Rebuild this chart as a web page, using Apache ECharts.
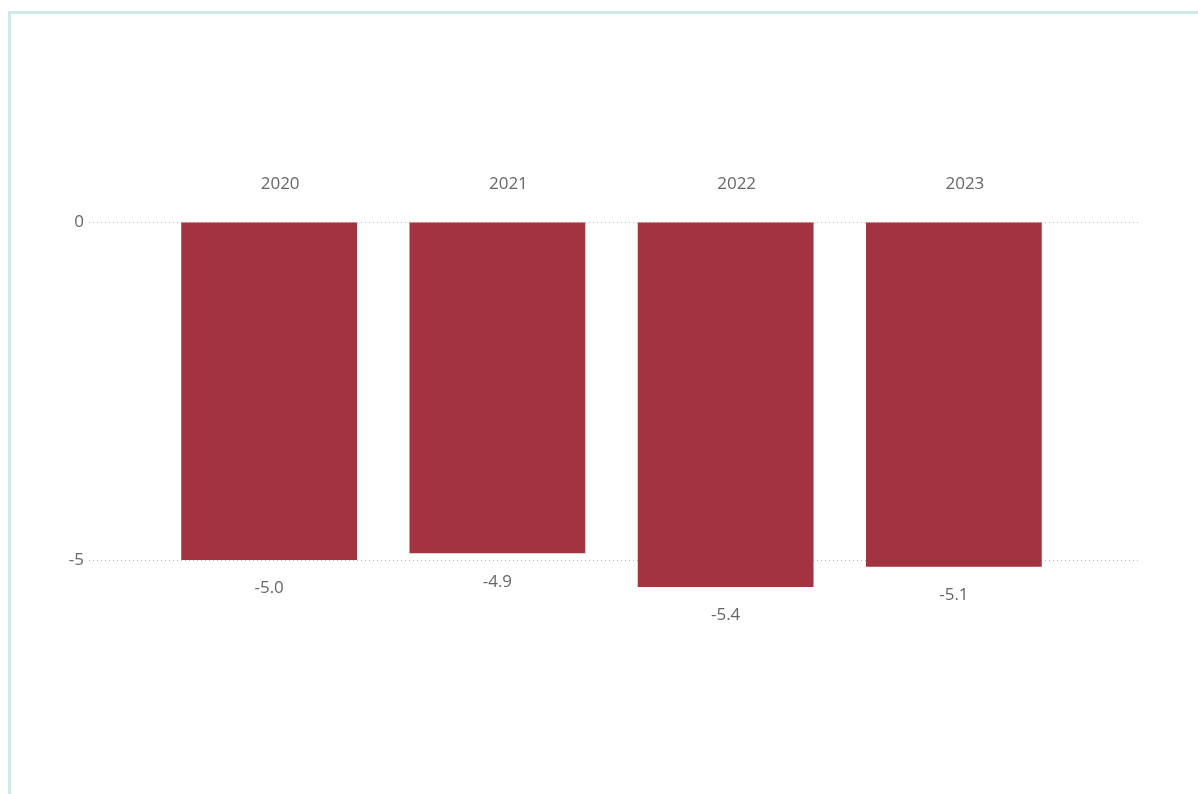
<!DOCTYPE html>
<html>
<head>
<meta charset="utf-8">
<script src="https://cdn.jsdelivr.net/npm/echarts@6/dist/echarts.min.js"></script>
<style>
  html, body { margin: 0; padding: 0; background: #ffffff; }
  #chart { width: 1198px; height: 794px; }
</style>
</head>
<body>
<div id="chart"></div>
<script>
// Yearly values shown as negative columns hanging from the zero line
const years = ['2020', '2021', '2022', '2023'];
const values = [-5.0, -4.9, -5.4, -5.1];
const yTicks = [0, -5];

const textColor = '#666666';
const barColor = '#a2333f';
const fontFamily = '"Open Sans", "Noto Sans", sans-serif';

const yMin = Math.min(...yTicks);
const yMax = Math.max(...yTicks);

const chart = echarts.init(document.getElementById('chart'));

chart.setOption({
  animation: false,
  backgroundColor: '#ffffff',
  graphic: [{
    type: 'rect',
    shape: { x: 9.5, y: 12.5, width: 1400, height: 1000 },
    style: { fill: 'none', stroke: '#cfe9e8', lineWidth: 3 },
    silent: true
  }],
  grid: [
    // wide grid: dotted reference lines and value labels
    { left: 89, right: 58, top: 222.5, bottom: 234, containLabel: false },
    // narrower grid: the columns and year labels
    { left: 155, right: 130, top: 222.5, bottom: 234, containLabel: false }
  ],
  xAxis: [
    { type: 'category', gridIndex: 0, data: years, show: false },
    {
      type: 'category', gridIndex: 1, data: years, position: 'top',
      axisLine: { show: false }, axisTick: { show: false },
      axisLabel: {
        color: textColor, fontSize: 17, fontFamily: fontFamily, margin: 30,
        padding: [0, 0, 0, 22]
      }
    }
  ],
  yAxis: [
    {
      type: 'value', gridIndex: 0, min: yMin, max: yMax, interval: 5,
      axisLine: { show: false }, axisTick: { show: false },
      axisLabel: { color: textColor, fontSize: 17, fontFamily: fontFamily, margin: 5 },
      splitLine: { show: true, lineStyle: { color: '#b8b8b8', width: 1, type: [1, 3] } }
    },
    {
      type: 'value', gridIndex: 1, min: yMin, max: yMax, interval: 5,
      show: false, splitLine: { show: false }
    }
  ],
  series: [{
    type: 'bar',
    xAxisIndex: 1,
    yAxisIndex: 1,
    data: values,
    clip: false,
    barWidth: '77%',
    itemStyle: { color: barColor },
    label: {
      show: true,
      position: 'bottom',
      distance: 20,
      color: textColor,
      fontSize: 17,
      fontFamily: fontFamily,
      formatter: p => p.value.toFixed(1)
    }
  }]
});
</script>
</body>
</html>
